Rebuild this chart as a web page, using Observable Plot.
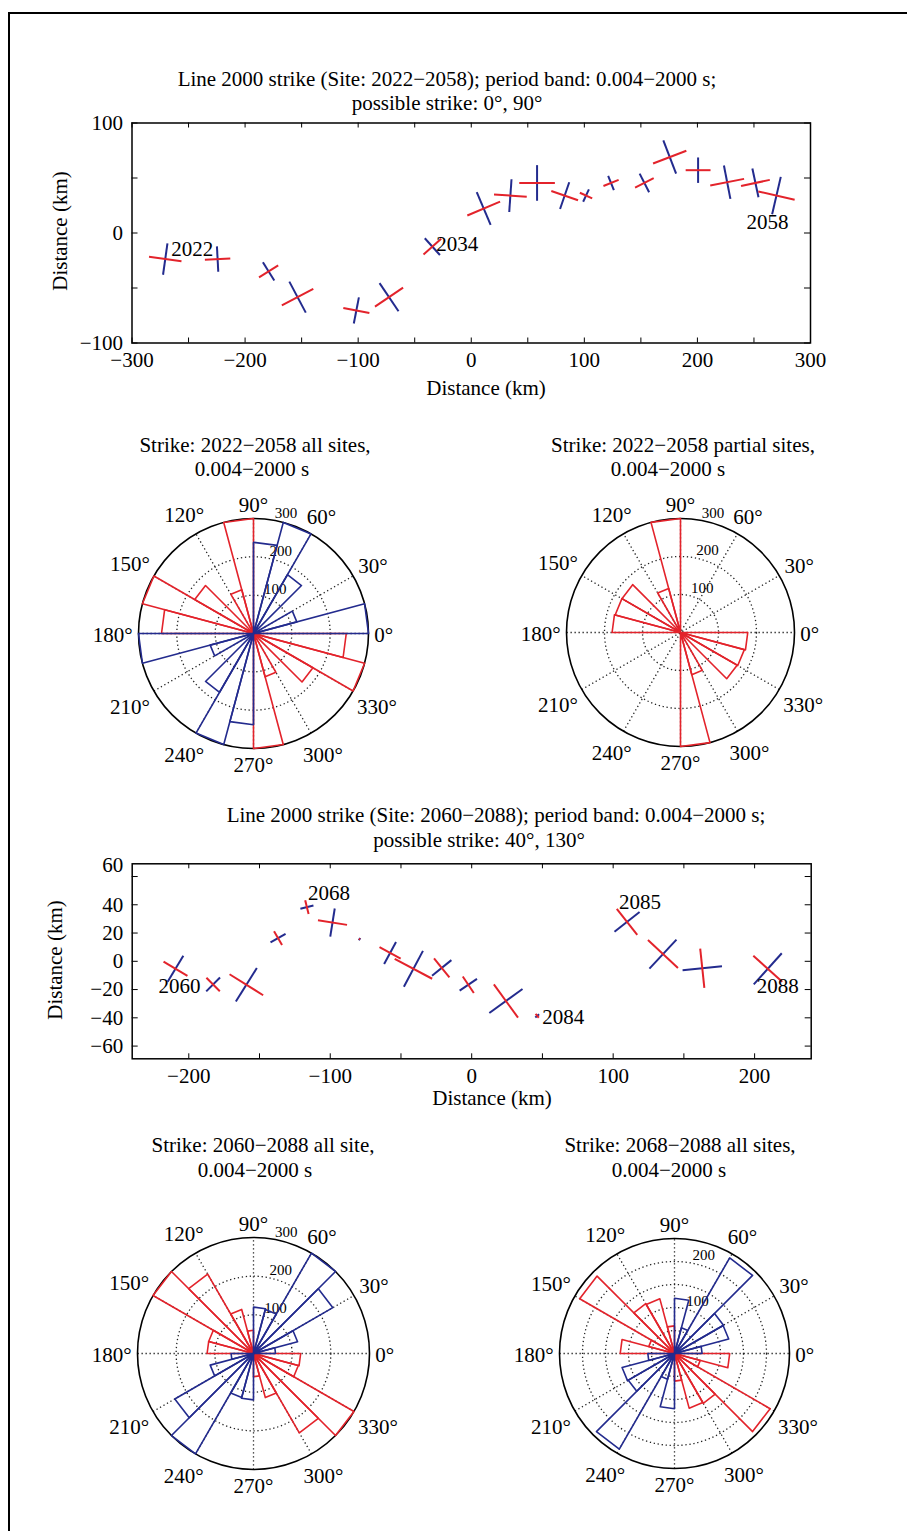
<!DOCTYPE html>
<html>
<head>
<meta charset="utf-8">
<script src="https://cdn.jsdelivr.net/npm/d3@7"></script>
<script src="https://cdn.jsdelivr.net/npm/@observablehq/plot@0.6"></script>
<style>
  body { margin: 0; background: #fff; }
  #page { position: relative; width: 907px; height: 1531px; overflow: hidden; background: #fff;
          font-family: "Liberation Serif", "Times New Roman", serif; color: #000; }
  .frame { position: absolute; left: 8px; top: 12px; width: 1000px; height: 1700px;
           border-left: 2px solid #000; border-top: 2px solid #000; }
  .t { position: absolute; transform: translate(-50%, -50%); white-space: nowrap; font-size: 21px; line-height: 1; }
  .yl { transform: translate(-50%, -50%) rotate(-90deg); }
  .chart { position: absolute; }
</style>
</head>
<body>
<div id="page"><div class="frame"></div></div>
<script>
// ================= DATA =================
// Line 1: sites 2022–2058 — station position (km), strike of red bar (deg, counter-clockwise from east), bar lengths (km)
const line1X = [-270.6, -224.3, -179.2, -153.6, -101.6, -72.7, -34.4, 11.0, 34.6, 58.2, 82.6, 101.5, 123.6, 153.1, 175.5, 200.6, 226.3, 251.3, 269.9];
const line1Y = [-23.7, -23.7, -34.9, -58.3, -70.4, -58.3, -12.4, 22.2, 34.0, 45.5, 34.0, 34.0, 45.5, 45.5, 69.0, 57.1, 46.2, 45.5, 34.0];
const line1Strike = [-8, 3, 32, 28, -11, 34, 42, 23, -4, 0, -19, -25, 22, 27, 21, 0, 11, 12, -13];
const line1RedLen = [29, 22.5, 20, 31.5, 23.5, 30, 21, 31.5, 29, 31.5, 25, 12, 14.5, 18.5, 31.5, 22, 30.5, 26, 33];
const line1BlueLen = [28, 22.5, 19, 31, 23.5, 30, 20, 31.5, 29, 31.5, 25, 12, 13.5, 18.5, 31.5, 22.5, 30, 26, 34];
const line1LabelSites = ["2022", "2034", "2058"];
const line1LabelIndex = [0, 6, 18];

// Line 2: sites 2060–2088
const line2X = [-209.4, -182.8, -159.3, -136.9, -116.5, -98.4, -79.3, -57.7, -41.2, -21.2, -2.4, 24.2, 46.3, 109.8, 135.2, 163.0, 209.3];
const line2Y = [-5.3, -16.4, -16.6, 16.4, 38.4, 27.4, 15.7, 5.9, -5.3, -4.7, -16.6, -28.1, -38.6, 27.9, 5.1, -4.9, -5.3];
const line2Strike = [-31, -45, -32, -60, -76, -9, -30, -28.5, -28, -51, -56, -54, -50, -52, -43, -84, -42];
const line2RedLen = [19.7, 13.4, 28, 11.3, 10, 20.8, 1, 17, 30, 17.3, 14, 29, 3.5, 23.5, 29, 28, 27.5];
const line2BlueLen = [21.5, 13.8, 28, 12.3, 9.5, 20.2, 2, 17.6, 28.7, 17.6, 14.8, 29, 3.5, 22.5, 28, 28, 29.6];
const line2LabelSites = ["2060", "2068", "2084", "2085", "2088"];
const line2LabelIndex = [0, 4, 12, 13, 16];

// Axis ticks
const line1XTickLabels = [-300, -200, -100, 0, 100, 200, 300];
const line1YTickLabels = [-100, 0, 100];
const line1XTicks = [-300, -250, -200, -150, -100, -50, 0, 50, 100, 150, 200, 250, 300];
const line1YTicks = [-100, -50, 0, 50, 100];
const line2XTickLabels = [-200, -100, 0, 100, 200];
const line2YTickLabels = [-60, -40, -20, 0, 20, 40, 60];
const line2XTicks = [-200, -150, -100, -50, 0, 50, 100, 150, 200];
const line2YTicks = [-60, -40, -20, 0, 20, 40, 60];

// Rose diagrams: 24 bins of 15°, bin start angle (deg)
const roseBinStart = [0, 15, 30, 45, 60, 75, 90, 105, 120, 135, 150, 165, 180, 195, 210, 225, 240, 255, 270, 285, 300, 315, 330, 345];
const rose1Red  = [0, 0, 0, 0, 0, 0, 300, 118, 0, 177, 300, 240, 0, 0, 0, 0, 0, 0, 300, 117, 0, 179, 300, 242];
const rose1Blue = [300, 117, 0, 177, 300, 238, 0, 0, 0, 0, 0, 0, 300, 117, 0, 177, 300, 238, 0, 0, 0, 0, 0, 0];
const rose2Red  = [0, 0, 0, 0, 0, 0, 300, 120, 0, 178, 178, 180, 0, 0, 0, 0, 0, 0, 300, 115, 0, 172, 174, 177];
const rose2Blue = [0, 0, 0, 0, 0, 0, 0, 0, 0, 0, 0, 0, 0, 0, 0, 0, 0, 0, 0, 0, 0, 0, 0, 0];
const rose3Red  = [0, 0, 0, 0, 0, 0, 60, 118, 237, 300, 120, 120, 0, 0, 0, 0, 0, 0, 60, 118, 237, 300, 120, 122];
const rose3Blue = [57, 118, 237, 300, 118, 120, 0, 0, 0, 0, 0, 0, 58, 116, 235, 300, 118, 120, 0, 0, 0, 0, 0, 0];
const rose4Red  = [0, 0, 0, 0, 0, 0, 60, 123, 125, 238, 58, 118, 0, 0, 0, 0, 0, 0, 60, 123, 125, 240, 58, 120];
const rose4Blue = [60, 122, 123, 240, 58, 120, 0, 0, 0, 0, 0, 0, 58, 118, 116, 240, 58, 120, 0, 0, 0, 0, 0, 0];
const angleTicks = [0, 30, 60, 90, 120, 150, 180, 210, 240, 270, 300, 330];

// ================= DRAWING =================
const RED = "#e3232b", BLUE = "#232b8e";
const SERIF = '"Liberation Serif", "Times New Roman", serif';
const page = document.getElementById("page");

function addText(txt, cx, cy, cls = "", size = 21) {
  const d = document.createElement("div");
  d.className = "t " + cls;
  d.style.left = cx + "px"; d.style.top = cy + "px"; d.style.fontSize = size + "px";
  d.textContent = txt;
  page.appendChild(d);
}
function addChart(svg, left, top) {
  const d = document.createElement("div");
  d.className = "chart"; d.style.left = left + "px"; d.style.top = top + "px";
  d.appendChild(svg); page.appendChild(d);
}

function crossSegments(X, Y, A, RL, BL, kx, ky) {
  const red = [], blue = [];
  X.forEach((x, i) => {
    const a = A[i] * Math.PI / 180, b = a + Math.PI / 2;
    const r = RL[i] / 2, q = BL[i] / 2;
    red.push({x1: x - r * Math.cos(a), y1: Y[i] - r * Math.sin(a) * kx / ky, x2: x + r * Math.cos(a), y2: Y[i] + r * Math.sin(a) * kx / ky});
    blue.push({x1: x - q * Math.cos(b), y1: Y[i] - q * Math.sin(b) * kx / ky, x2: x + q * Math.cos(b), y2: Y[i] + q * Math.sin(b) * kx / ky});
  });
  return {red, blue};
}

function linePlot(o) {
  const W = 907, plotW = W - o.ml - o.mr, plotH = o.height - o.mt - o.mb;
  const kx = plotW / (o.xDomain[1] - o.xDomain[0]), ky = plotH / (o.yDomain[1] - o.yDomain[0]);
  const seg = crossSegments(o.X, o.Y, o.A, o.RL, o.BL, kx, ky);
  const marks = [
    Plot.tickX(o.xTicks, {x: d => d, insetTop: plotH - 5, stroke: "black", strokeWidth: 1}),
    Plot.tickX(o.xTicks, {x: d => d, insetBottom: plotH - 5, stroke: "black", strokeWidth: 1}),
    Plot.tickY(o.yTicks, {y: d => d, insetRight: plotW - 6, stroke: "black", strokeWidth: 1}),
    Plot.tickY(o.yTicks, {y: d => d, insetLeft: plotW - 6, stroke: "black", strokeWidth: 1}),
    Plot.frame({stroke: "black", strokeWidth: 1.5}),
    Plot.axisX({ticks: o.xLab, tickSize: 0, tickPadding: 9, label: null}),
    Plot.axisY({ticks: o.yLab, tickSize: 0, tickPadding: 9, label: null}),
    Plot.link(seg.blue, {x1: "x1", y1: "y1", x2: "x2", y2: "y2", stroke: BLUE, strokeWidth: 2}),
    Plot.link(seg.red, {x1: "x1", y1: "y1", x2: "x2", y2: "y2", stroke: RED, strokeWidth: 2}),
    ...o.labelIndex.map((idx, j) => Plot.text([idx], {
      x: i => o.X[i], y: i => o.Y[i], text: () => o.labelSites[j],
      dx: o.labelOffsets[j][0], dy: o.labelOffsets[j][1], fill: "black", fontSize: 21
    })),
    ...(o.extra || [])
  ];
  return Plot.plot({
    width: W, height: o.height,
    marginLeft: o.ml, marginRight: o.mr, marginTop: o.mt, marginBottom: o.mb,
    x: {domain: o.xDomain}, y: {domain: o.yDomain},
    style: {fontFamily: SERIF, fontSize: "21px", color: "black", background: "transparent", overflow: "visible"},
    marks
  });
}

function rosePlot(o) {
  const size = 360, k = o.Rpx / o.rmax, h = (size / 2) / k;
  const petals = (vals, color) => {
    const pts = [];
    vals.forEach((v, i) => {
      if (v <= 0) return;
      const a1 = roseBinStart[i] * Math.PI / 180, a2 = (roseBinStart[i] + 15) * Math.PI / 180;
      const id = color + i;
      pts.push({x: 0, y: 0, id}, {x: v * Math.cos(a1), y: v * Math.sin(a1), id},
               {x: v * Math.cos(a2), y: v * Math.sin(a2), id}, {x: 0, y: 0, id});
    });
    return Plot.line(pts, {x: "x", y: "y", z: "id", stroke: color, strokeWidth: 1.6, curve: "linear"});
  };
  const rad = a => a * Math.PI / 180;
  const c82 = Math.cos(rad(82)), s82 = Math.sin(rad(82));
  const marks = [
    Plot.link([0, 30, 60, 90, 120, 150], {
      x1: a => -o.rmax * Math.cos(rad(a)), y1: a => -o.rmax * Math.sin(rad(a)),
      x2: a => o.rmax * Math.cos(rad(a)), y2: a => o.rmax * Math.sin(rad(a)),
      stroke: "#222", strokeWidth: 1.3, strokeDasharray: "1.3,2.7"
    }),
    ...o.rings.map(v => Plot.dot([v], {x: () => 0, y: () => 0, r: v * k, stroke: "#222", strokeWidth: 1.3, strokeDasharray: "1.3,2.7", fill: "none"})),
    Plot.dot([o.rmax], {x: () => 0, y: () => 0, r: o.Rpx, stroke: "black", strokeWidth: 1.6, fill: "none"}),
    Plot.text(o.ringLabels, {
      x: v => (v + o.rmax / 60) * c82, y: v => (v + o.rmax / 60) * s82, text: v => String(v),
      textAnchor: "start", lineAnchor: "bottom", dx: 5, fontSize: 15, fill: "black"
    }),
    petals(o.red, RED),
    petals(o.blue, BLUE),
    Plot.text(angleTicks, {
      x: a => {
        const w = String(a).length * 10.5 + 8;
        const rp = o.Rpx + 6 + (w / 2) * Math.abs(Math.cos(rad(a))) + 9 * Math.abs(Math.sin(rad(a)));
        return rp / k * Math.cos(rad(a));
      },
      y: a => {
        const w = String(a).length * 10.5 + 8;
        const rp = o.Rpx + 6 + (w / 2) * Math.abs(Math.cos(rad(a))) + 9 * Math.abs(Math.sin(rad(a)));
        return rp / k * Math.sin(rad(a));
      },
      text: a => a + "°", textAnchor: "middle", dy: 2, fontSize: 21, fill: "black"
    })
  ];
  const svg = Plot.plot({
    width: size, height: size, margin: 0,
    x: {domain: [-h, h], axis: null}, y: {domain: [-h, h], axis: null},
    style: {fontFamily: SERIF, fontSize: "21px", color: "black", background: "transparent", overflow: "visible"},
    marks
  });
  addChart(svg, o.cx - size / 2, o.cy - size / 2);
}

// ---- Line plot 1 ----
addText("Line 2000 strike (Site: 2022−2058); period band: 0.004−2000 s;", 447, 79);
addText("possible strike: 0°, 90°", 447, 103);
addChart(linePlot({
  X: line1X, Y: line1Y, A: line1Strike, RL: line1RedLen, BL: line1BlueLen,
  xDomain: [-300, 300], yDomain: [-100, 100],
  xLab: line1XTickLabels, yLab: line1YTickLabels, xTicks: line1XTicks, yTicks: line1YTicks,
  height: 300, mt: 22.5, mb: 57.5, ml: 131.5, mr: 97,
  labelIndex: line1LabelIndex, labelSites: line1LabelSites,
  labelOffsets: [[27, -10], [25, -2], [-9, 27]]
}), 0, 100);
addText("Distance (km)", 60, 231, "yl");
addText("Distance (km)", 486, 388);

// ---- Roses 1 & 2 ----
addText("Strike: 2022−2058 all sites,", 255, 445);
addText("0.004−2000 s", 252, 469);
addText("Strike: 2022−2058 partial sites,", 683, 445);
addText("0.004−2000 s", 668, 469);
rosePlot({red: rose1Red, blue: rose1Blue, rmax: 300, rings: [100, 200], ringLabels: [100, 200, 300], Rpx: 115, cx: 253, cy: 633});
rosePlot({red: rose2Red, blue: rose2Blue, rmax: 300, rings: [100, 200], ringLabels: [100, 200, 300], Rpx: 114, cx: 680, cy: 632});

// ---- Line plot 2 ----
addText("Line 2000 strike (Site: 2060−2088); period band: 0.004−2000 s;", 496, 815);
addText("possible strike: 40°, 130°", 479, 840);
addChart(linePlot({
  X: line2X, Y: line2Y, A: line2Strike, RL: line2RedLen, BL: line2BlueLen,
  xDomain: [-240, 240], yDomain: [-69, 69],
  xLab: line2XTickLabels, yLab: line2YTickLabels.filter(v => v !== 60), xTicks: line2XTicks, yTicks: line2YTicks,
  height: 270, mt: 23.3, mb: 51.7, ml: 131.7, mr: 96.3,
  labelIndex: line2LabelIndex, labelSites: line2LabelSites,
  labelOffsets: [[4, 17], [22, -14], [26, 1], [13, -20], [10, 17]],
  extra: [Plot.axisY({ticks: [60], tickSize: 0, tickPadding: 9, dy: -11, label: null})]
}), 0, 840);
addText("Distance (km)", 55, 960, "yl");
addText("Distance (km)", 492, 1098);

// ---- Roses 3 & 4 ----
addText("Strike: 2060−2088 all site,", 263, 1145);
addText("0.004−2000 s", 255, 1170);
addText("Strike: 2068−2088 all sites,", 680, 1145);
addText("0.004−2000 s", 669, 1170);
rosePlot({red: rose3Red, blue: rose3Blue, rmax: 300, rings: [100, 200], ringLabels: [100, 200, 300], Rpx: 116, cx: 253, cy: 1353});
rosePlot({red: rose4Red, blue: rose4Blue, rmax: 250, rings: [50, 100, 150, 200], ringLabels: [100, 200], Rpx: 115, cx: 674, cy: 1353});
</script>
</body>
</html>
